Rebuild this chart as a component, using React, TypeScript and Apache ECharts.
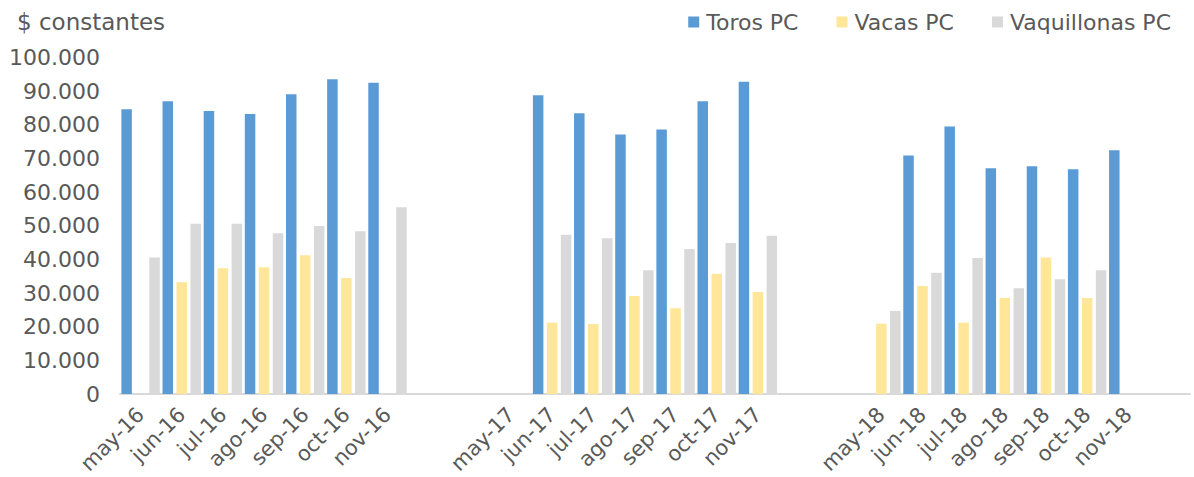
import React, { useEffect, useRef } from "react";
import * as echarts from "echarts";

const categories = [
  "may-16", "jun-16", "jul-16", "ago-16", "sep-16", "oct-16", "nov-16",
  "", "",
  "may-17", "jun-17", "jul-17", "ago-17", "sep-17", "oct-17", "nov-17",
  "", "",
  "may-18", "jun-18", "jul-18", "ago-18", "sep-18", "oct-18", "nov-18",
  "",
];

const toros = [
  84600, 87000, 84100, 83200, 89100, 93500, 92500,
  null, null,
  null, 88800, 83400, 77100, 78600, 87000, 92800,
  null, null,
  null, 70900, 79500, 67100, 67700, 66800, 72400,
  null,
];

const vacas = [
  null, 33200, 37400, 37700, 41200, 34500, null,
  null, null,
  null, 21200, 20800, 29100, 25500, 35700, 30300,
  null, null,
  20900, 32100, 21200, 28500, 40600, 28500, null,
  null,
];

const vaquillonas = [
  40600, 50600, 50600, 47800, 49900, 48400, 55500,
  null, null,
  null, 47300, 46300, 36800, 43100, 44900, 47000,
  null, null,
  24700, 36000, 40400, 31400, 34100, 36800, null,
  null,
];

const seriesNames = ["Toros PC", "Vacas PC", "Vaquillonas PC"];
const seriesColors = ["#5b9bd5", "#ffe699", "#d9d9d9"];

const FONT = "DejaVu Sans";
const TXT = "#595959";

function fmt(v: number): string {
  if (v === 0) return "0";
  const s = String(Math.round(v));
  return s.replace(/\B(?=(\d{3})+(?!\d))/g, ".");
}

export default function App() {
  const ref = useRef<HTMLDivElement>(null);
  useEffect(() => {
    if (!ref.current) return;
    const chart = echarts.init(ref.current, undefined, { renderer: "svg" });
    const data = [toros, vacas, vaquillonas];
    chart.setOption({
      animation: false,
      backgroundColor: "#ffffff",
      title: {
        text: "$ constantes",
        left: 12,
        top: 5,
        textStyle: { fontFamily: FONT, fontSize: 23, fontWeight: "normal", color: TXT },
      },
      legend: {
        right: 18,
        top: 6,
        icon: "rect",
        itemWidth: 11,
        itemHeight: 11,
        itemGap: 38,
        textStyle: { fontFamily: FONT, fontSize: 22, color: TXT, padding: [0, 0, 0, 2] },
        data: seriesNames,
      },
      grid: { left: 120, right: 4, top: 57.5, bottom: 83, containLabel: false },
      xAxis: {
        type: "category",
        data: categories,
        axisLine: { show: true, lineStyle: { color: "#d9d9d9", width: 2 } },
        axisTick: { show: false },
        axisLabel: {
          interval: 0,
          rotate: 45,
          fontFamily: FONT,
          fontSize: 21,
          color: TXT,
          margin: 17,
        },
      },
      yAxis: {
        type: "value",
        min: 0,
        max: 100000,
        interval: 10000,
        axisLine: { show: false },
        axisTick: { show: false },
        splitLine: { show: false },
        axisLabel: {
          fontFamily: FONT,
          fontSize: 22,
          color: TXT,
          margin: 20,
          formatter: (v: number) => fmt(v),
        },
      },
      series: seriesNames.map((name, i) => ({
        name,
        type: "bar",
        data: data[i],
        barWidth: 10.5,
        barGap: "33%",
        itemStyle: { color: seriesColors[i] },
      })),
    });
    return () => chart.dispose();
  }, []);
  return (
    <div
      ref={ref}
      style={{ position: "fixed", left: 0, top: 0, width: 1194, height: 477, background: "#fff" }}
    />
  );
}
